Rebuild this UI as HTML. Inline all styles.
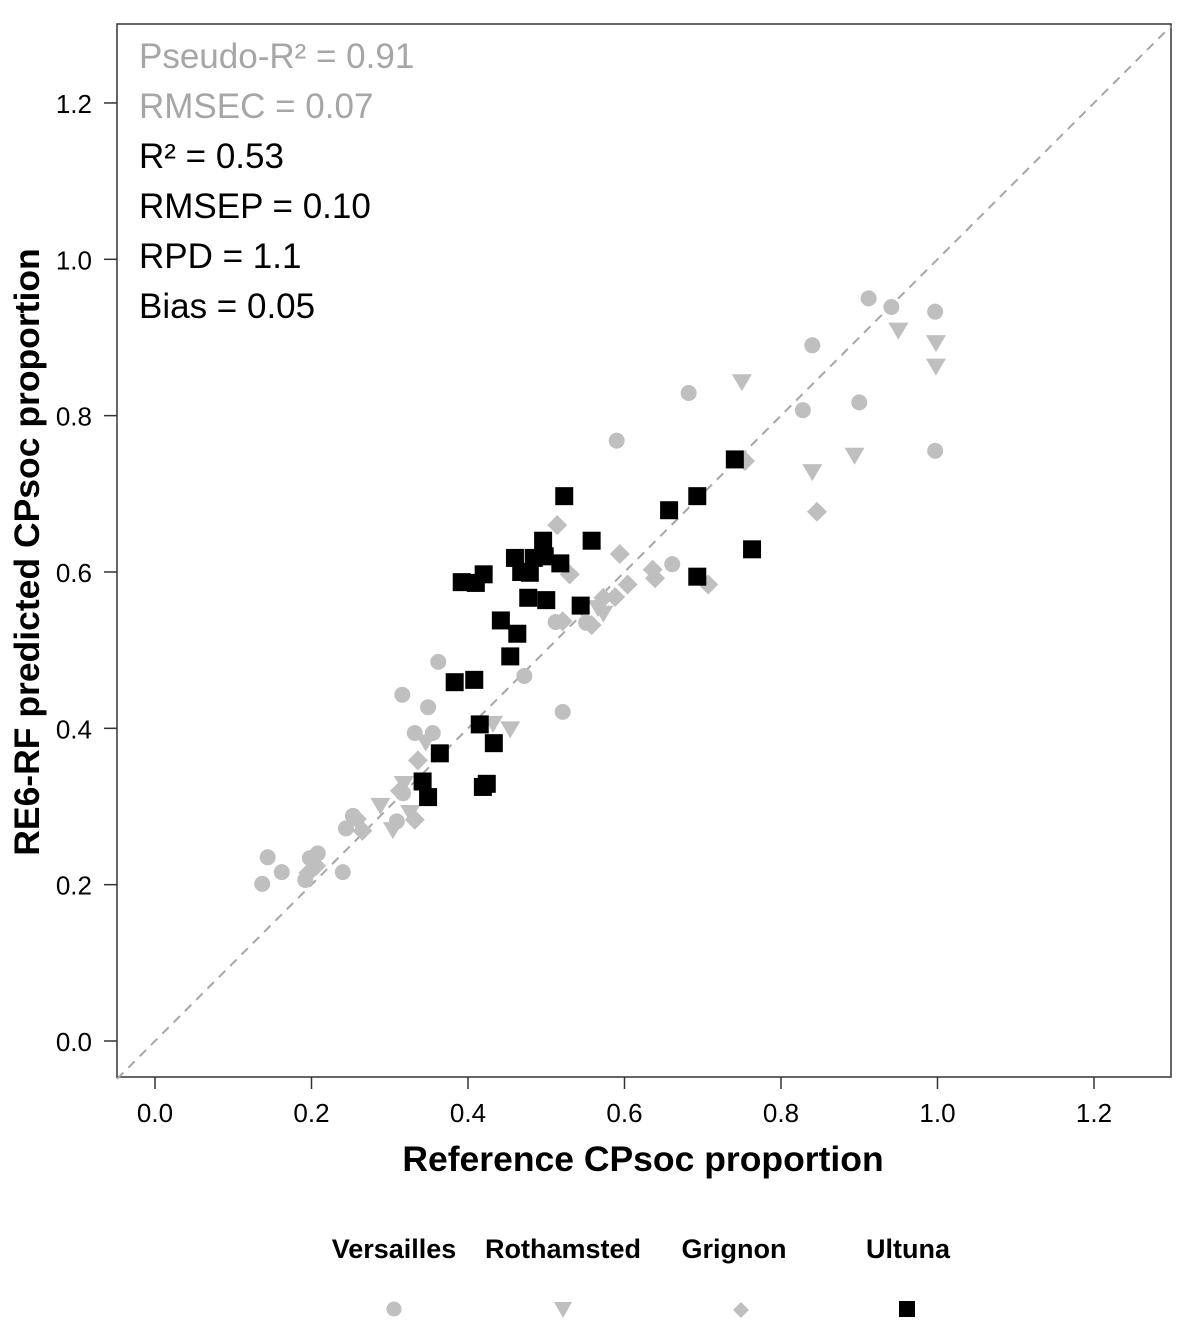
<!DOCTYPE html>
<html><head><meta charset="utf-8"><style>
html,body{margin:0;padding:0;background:#fff}
svg{display:block}
text{font-family:"Liberation Sans",Arial,sans-serif}
</style></head><body>
<svg id="chart" width="1193" height="1327" viewBox="0 0 1193 1327" xmlns="http://www.w3.org/2000/svg">
<rect x="117" y="24" width="1054" height="1053" fill="#fff" stroke="#333" stroke-width="1.5"/>
<g id="grid"></g>
<g id="marks"></g>
<g font-size="35">
<text x="139" y="68" fill="#a6a6a6">Pseudo-R² = 0.91</text>
<text x="139" y="118" fill="#a6a6a6">RMSEC = 0.07</text>
<text x="139" y="168" fill="#000">R² = 0.53</text>
<text x="139" y="218" fill="#000">RMSEP = 0.10</text>
<text x="139" y="268" fill="#000">RPD = 1.1</text>
<text x="139" y="318" fill="#000">Bias = 0.05</text>
</g>
<text x="643" y="1171" text-anchor="middle" font-size="35.5" font-weight="bold" fill="#000">Reference CPsoc proportion</text>
<text transform="translate(39,552) rotate(-90)" text-anchor="middle" font-size="35.5" font-weight="bold" fill="#000">RE6-RF predicted CPsoc proportion</text>
<g font-size="27" font-weight="bold">
<text x="394" y="1258" text-anchor="middle">Versailles</text>
<text x="563" y="1258" text-anchor="middle">Rothamsted</text>
<text x="734" y="1258" text-anchor="middle">Grignon</text>
<text x="908" y="1258" text-anchor="middle">Ultuna</text>
<circle cx="394" cy="1309" r="7.5" fill="#bfbfbf"/>
<polygon points="554,1302 572,1302 563,1318" fill="#bfbfbf"/>
<polygon points="741,1302 749,1310 741,1318 733,1310" fill="#bfbfbf"/>
<rect x="899" y="1301" width="16" height="16" fill="#000"/>
</g>
</svg>
<script>
const xTicks=[0.0,0.2,0.4,0.6,0.8,1.0,1.2];
const yTicks=[0.0,0.2,0.4,0.6,0.8,1.0,1.2];
const versX=[0.912,0.997,0.941,0.840,0.682,0.828,0.900,0.997,0.590,0.661,0.521,0.362,0.316,0.349,0.472,0.332,0.355,0.317,0.309,0.253,0.244,0.144,0.162,0.137,0.208,0.198,0.192,0.240,0.512,0.551];
const versY=[0.950,0.933,0.939,0.890,0.829,0.807,0.817,0.755,0.768,0.610,0.421,0.485,0.443,0.427,0.467,0.394,0.394,0.317,0.281,0.288,0.272,0.235,0.216,0.201,0.240,0.234,0.206,0.216,0.536,0.535];
const rothX=[0.950,0.998,0.998,0.750,0.840,0.894,0.454,0.432,0.346,0.288,0.304,0.326,0.318,0.566,0.573];
const rothY=[0.910,0.894,0.864,0.844,0.729,0.750,0.400,0.407,0.383,0.302,0.271,0.293,0.330,0.555,0.548];
const grigX=[0.514,0.594,0.636,0.639,0.604,0.707,0.846,0.754,0.521,0.558,0.573,0.588,0.530,0.265,0.258,0.332,0.336,0.196,0.206,0.313];
const grigY=[0.660,0.623,0.603,0.592,0.584,0.584,0.677,0.742,0.537,0.532,0.567,0.568,0.597,0.269,0.284,0.283,0.359,0.215,0.224,0.320];
const ultX=[0.523,0.741,0.693,0.657,0.763,0.693,0.544,0.496,0.558,0.518,0.484,0.479,0.460,0.498,0.468,0.420,0.410,0.392,0.477,0.500,0.442,0.463,0.454,0.408,0.383,0.364,0.415,0.433,0.342,0.349,0.419,0.424];
const ultY=[0.697,0.744,0.697,0.679,0.629,0.594,0.557,0.640,0.640,0.611,0.618,0.599,0.618,0.620,0.600,0.597,0.586,0.587,0.567,0.564,0.538,0.521,0.492,0.462,0.459,0.368,0.405,0.381,0.332,0.312,0.325,0.329];

const NS="http://www.w3.org/2000/svg";
const sx=v=>155+v*782.5;
const sy=v=>1041-v*781.7;
const grid=document.getElementById('grid');
const marks=document.getElementById('marks');
function mk(tag,attrs,parent){const e=document.createElementNS(NS,tag);for(const k in attrs)e.setAttribute(k,attrs[k]);parent.appendChild(e);return e;}
const lo=(117-155)/782.5, hi=(1171-155)/782.5;
let d=mk('line',{x1:sx(lo),y1:sy(lo),x2:sx(hi),y2:sy(hi),stroke:'#a6a6a6','stroke-width':2,'stroke-dasharray':'9,7'},grid);


xTicks.forEach(t=>{
  const l=mk('line',{x1:sx(t),x2:sx(t),y1:1077,y2:1089,stroke:'#333','stroke-width':1.5},grid);
  
  
  const tx=mk('text',{x:sx(t),y:1122,'text-anchor':'middle','font-size':26,fill:'#000'},grid);
  tx.textContent=t.toFixed(1);
  
  
});
yTicks.forEach(t=>{
  const l=mk('line',{x1:104,x2:117,y1:sy(t),y2:sy(t),stroke:'#333','stroke-width':1.5},grid);
  
  
  const tx=mk('text',{x:92,y:sy(t)+10,'text-anchor':'end','font-size':26,fill:'#000'},grid);
  tx.textContent=t.toFixed(1);
  
  
});
versX.forEach((v,i)=>{
  const c=mk('circle',{cx:sx(v),cy:sy(versY[i]),r:8,fill:'#bfbfbf'},marks);
  
  
});
rothX.forEach((v,i)=>{
  const x=sx(v),y=sy(rothY[i]);
  const p=mk('polygon',{points:`${x-10},${y-7} ${x+10},${y-7} ${x},${y+10}`,fill:'#bfbfbf'},marks);
  
  
});
grigX.forEach((v,i)=>{
  const x=sx(v),y=sy(grigY[i]);
  const p=mk('polygon',{points:`${x},${y-10} ${x+10},${y} ${x},${y+10} ${x-10},${y}`,fill:'#bfbfbf'},marks);
  
  
});
ultX.forEach((v,i)=>{
  const r=mk('rect',{x:sx(v)-9,y:sy(ultY[i])-9,width:18,height:18,fill:'#000'},marks);
  
  
});
</script>
</body></html>
